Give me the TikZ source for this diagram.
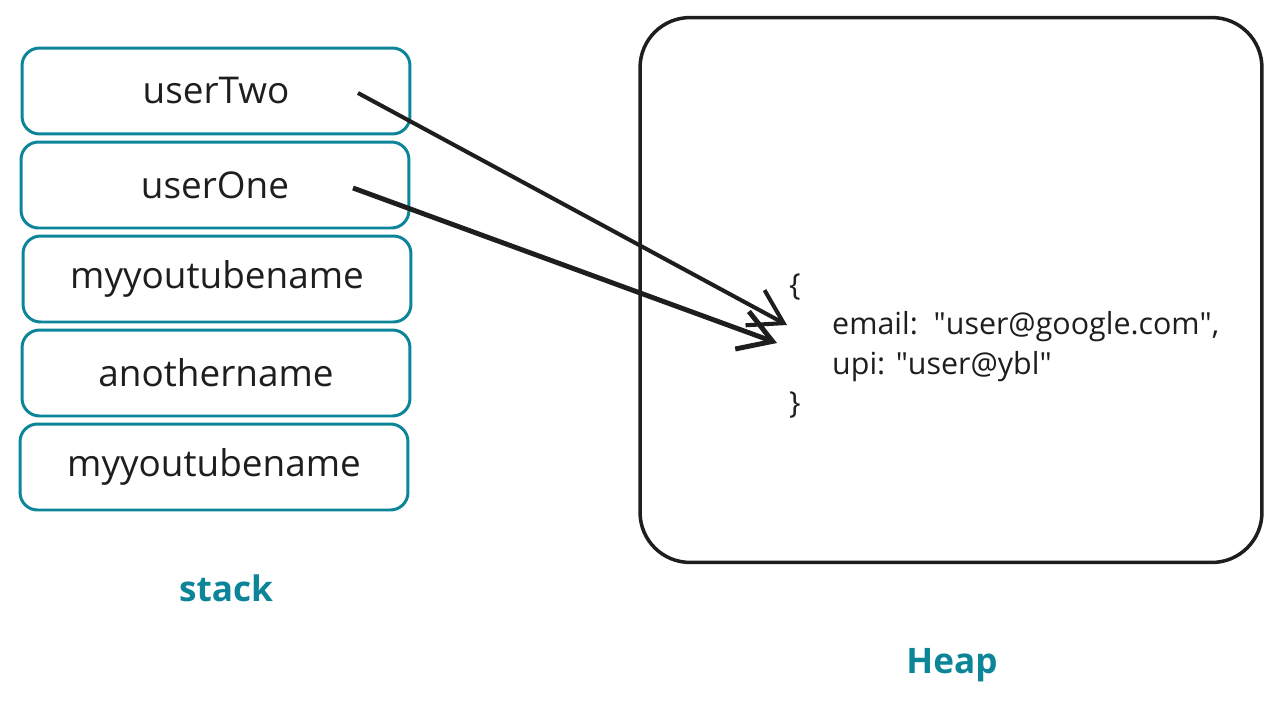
\documentclass[tikz,border=0pt]{standalone}
\usepackage{fontspec}
\setmainfont{Open Sans}
\usetikzlibrary{arrows.meta}
\definecolor{teal}{HTML}{0C8599}
\definecolor{ink}{HTML}{1E1E1E}
\begin{document}
\begin{tikzpicture}[x=0.02cm,y=-0.02cm,
    stackbox/.style={draw=teal,line width=1.7pt,rounded corners=0.35cm,
        minimum width=7.76cm,minimum height=1.72cm,text=ink,
        font=\fontsize{21}{25}\selectfont},
    caption/.style={text=teal,font=\fontsize{20}{24}\selectfont\bfseries},
    ref/.style={draw=ink,-{Straight Barb[length=0.65cm,width=0.8cm]}}]
        \useasboundingbox (0,0) rectangle (1282,710);

        %stack
        \node[stackbox] (two) at (216,91) {userTwo};
        \node[stackbox] (one) at (215,185) {userOne};
        \node[stackbox] (nameA) at (217,279) {myyoutubename};
        \node[stackbox] (other) at (216,373) {anothername};
        \node[stackbox] (nameB) at (214,467) {myyoutubename};
        \node[caption] (stack) at (226,588) {stack};

        %heap
        \node[draw=ink,line width=2pt,rounded corners=1cm,
            minimum width=12.44cm,minimum height=10.9cm] (heap) at (951,290) {};
        \node[anchor=west,align=left,text=ink,
            font=\fontsize{17.3}{22.5}\selectfont] (obj) at (783,346)
            {\{\\ \hspace*{0.86cm}email:\ \ \textquotedbl user@google.com\textquotedbl,\\
             \hspace*{0.86cm}upi: \textquotedbl user@ybl\textquotedbl\\ \}};
        \node[caption] (heaplabel) at (952,665) {Heap};

        %arrows
        \coordinate (twoTail) at (358,93);
        \coordinate (oneTail) at (353,188);
        \coordinate (twoHead) at (787,325);
        \coordinate (oneHead) at (777,343);
        \draw[ref,line width=2.3pt] (twoTail) -- (twoHead);
        \draw[ref,line width=2.8pt] (oneTail) -- (oneHead);
\end{tikzpicture}
\end{document}
